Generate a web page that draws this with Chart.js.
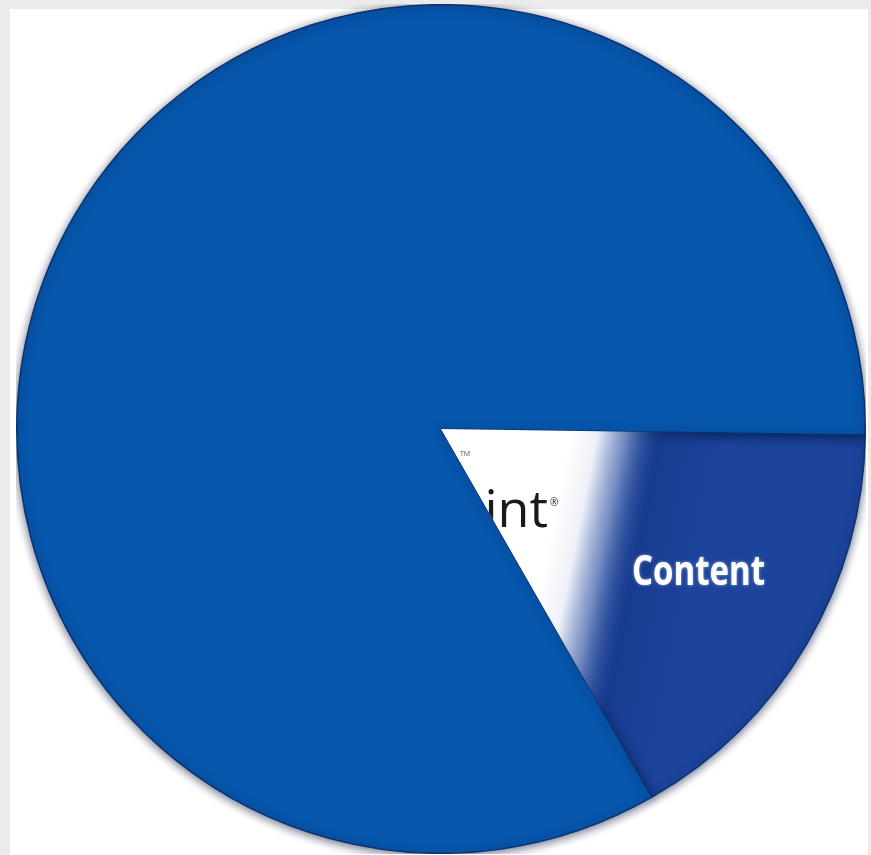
<!DOCTYPE html>
<html>
<head>
<meta charset="utf-8">
<script src="https://cdn.jsdelivr.net/npm/chart.js@4.4.0/dist/chart.umd.min.js"></script>
<style>
  html, body { margin:0; padding:0; background:#ebebeb; width:871px; height:855px; overflow:hidden; }
  #panel { position:absolute; left:10px; top:9px; width:858px; height:846px; background:#ffffff; }
  #wrap { position:absolute; left:16px; top:4px; width:850px; height:850px; }
</style>
</head>
<body>
<div id="panel"></div>
<div id="wrap"><canvas id="c" width="850" height="850"></canvas></div>
<script>
const categories = ['Content', 'Other'];
const values = [16.5, 83.5];
const sliceColors = ['#1c449b', '#0656ac'];

const decorate = {
  id: 'decorate',
  beforeDatasetsDraw(chart) {
    const ctx = chart.ctx;
    ctx.save();
    ctx.shadowColor = 'rgba(0,20,60,0.6)';
    ctx.shadowBlur = 10;
    ctx.shadowOffsetY = 2;
  },
  afterDatasetsDraw(chart) {
    const ctx = chart.ctx;
    ctx.restore();
    const arc = chart.getDatasetMeta(0).data[0];
    const { x, y, startAngle, endAngle, outerRadius } = arc.getProps(['x','y','startAngle','endAngle','outerRadius'], true);
    ctx.save();
    ctx.beginPath();
    ctx.moveTo(x, y);
    ctx.arc(x, y, outerRadius - 1, startAngle, endAngle);
    ctx.closePath();
    ctx.clip();
    const ox = 16, oy = 4; // canvas offset in page
    // darker band just right of the wash
    const g2 = ctx.createLinearGradient(600 - ox, 430 - oy, 720 - ox, 454 - oy);
    g2.addColorStop(0, 'rgba(18,50,130,0.0)');
    g2.addColorStop(0.45, 'rgba(18,50,130,0.5)');
    g2.addColorStop(1, 'rgba(18,50,130,0)');
    ctx.fillStyle = g2;
    ctx.fillRect(x, y, outerRadius, outerRadius);
    // white-to-blue wash
    const g = ctx.createLinearGradient(570 - ox, 430 - oy, 660 - ox, 448 - oy);
    g.addColorStop(0, '#ffffff');
    g.addColorStop(0.3, 'rgba(238,241,248,1)');
    g.addColorStop(0.6, 'rgba(150,168,210,0.75)');
    g.addColorStop(1, 'rgba(28,68,155,0)');
    ctx.fillStyle = g;
    ctx.fillRect(x, y, outerRadius, outerRadius);
    // product name text
    ctx.fillStyle = '#1a1a1a';
    ctx.font = '400 52px "Open Sans", "DejaVu Sans", sans-serif';
    ctx.textAlign = 'right';
    ctx.textBaseline = 'alphabetic';
    ctx.fillText('SharePoint', 548 - ox, 527 - oy);
    ctx.font = '10px "Open Sans", sans-serif';
    ctx.textAlign = 'left';
    ctx.fillText('®', 550 - ox, 506 - oy);
    ctx.fillStyle = '#555';
    ctx.font = '7px "Open Sans", sans-serif';
    ctx.fillText('TM', 460 - ox, 456 - oy);
    // Content label
    ctx.fillStyle = '#ffffff';
    ctx.shadowColor = 'rgba(255,255,255,0.6)';
    ctx.shadowBlur = 3;
    ctx.font = '700 42px "Open Sans", sans-serif';
    ctx.textAlign = 'left';
    const w = ctx.measureText(categories[0]).width;
    ctx.translate(632 - ox, 585 - oy);
    ctx.scale(133 / w, 1);
    ctx.fillText(categories[0], 0, 0);
    ctx.restore();
  }
};

new Chart(document.getElementById('c'), {
  type: 'pie',
  data: {
    labels: categories,
    datasets: [{
      data: values,
      backgroundColor: sliceColors,
      borderColor: '#0b336e',
      borderWidth: 1.5,
      hoverOffset: 0
    }]
  },
  options: {
    responsive: false,
    animation: false,
    rotation: 90.8,
    layout: { padding: 0 },
    plugins: { legend: { display: false }, tooltip: { enabled: false } }
  },
  plugins: [decorate]
});
</script>
</body>
</html>
